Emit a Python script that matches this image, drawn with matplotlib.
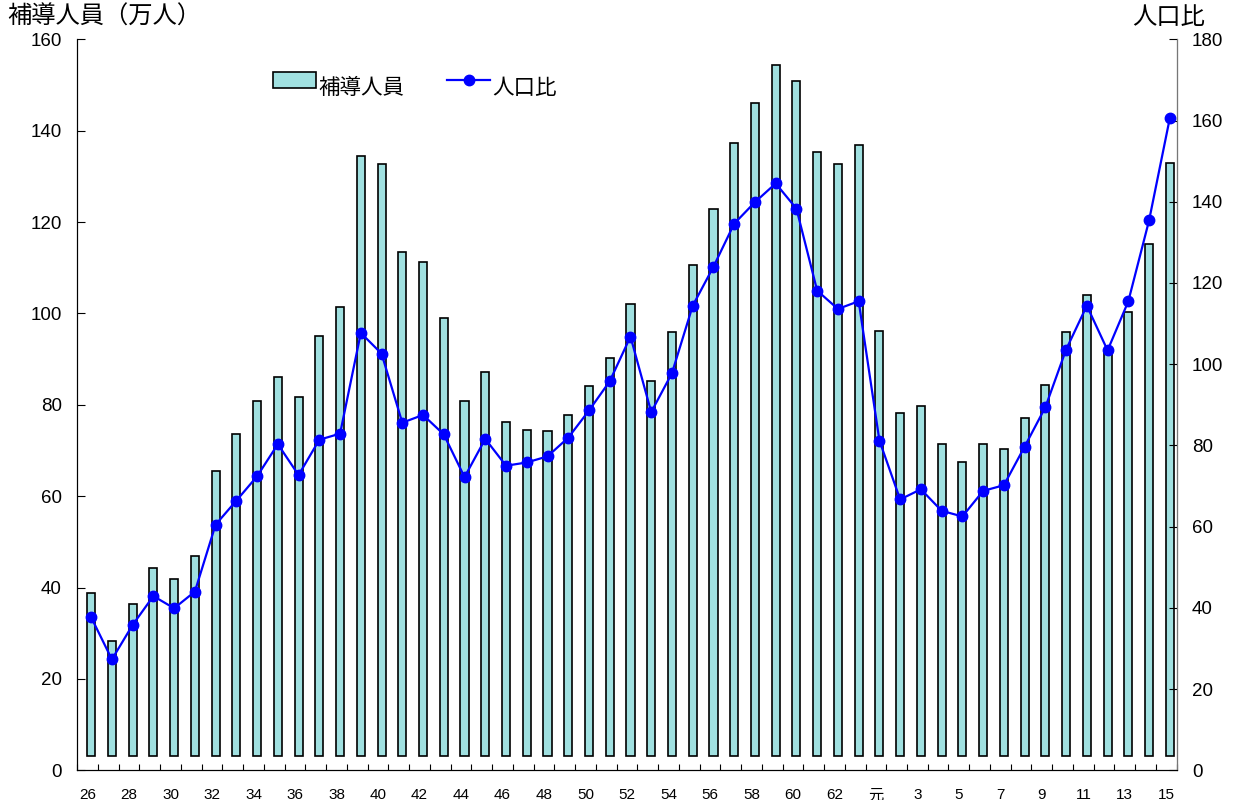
import numpy as np
import matplotlib.pyplot as plt
from matplotlib.ticker import FixedLocator

plt.rcParams['font.family'] = ['Liberation Sans', 'Noto Sans CJK JP']

# 年 (昭和26年〜63年, 平成元年〜15年)
years = [str(y) for y in range(26, 64)] + ['元'] + [str(y) for y in range(2, 16)]

# 補導人員 (万人)
persons = [38.9, 28.2, 36.5, 44.3, 41.9, 47.0, 65.6, 73.7, 80.8, 86.1,
           81.8, 95.1, 101.3, 134.4, 132.7, 113.5, 111.3, 99.0, 80.9, 87.1,
           76.3, 74.4, 74.3, 77.7, 84.2, 90.2, 102.1, 85.1, 95.9, 110.7,
           122.9, 137.2, 146.1, 154.4, 150.9, 135.4, 132.6, 136.8,
           96.1, 78.3, 79.8, 71.5, 67.4, 71.5, 70.4, 77.2, 84.4, 95.9,
           104.0, 92.0, 100.3, 115.3, 133.0]

# 人口比
ratio = [37.7, 27.3, 35.8, 42.9, 39.9, 44.0, 60.5, 66.4, 72.4, 80.3,
         72.7, 81.4, 82.9, 107.7, 102.6, 85.6, 87.5, 82.7, 72.2, 81.6,
         75.0, 75.8, 77.3, 81.9, 88.6, 95.8, 106.8, 88.2, 97.8, 114.4,
         124.0, 134.6, 139.9, 144.5, 138.3, 118.1, 113.6, 115.5,
         81.2, 66.7, 69.2, 63.9, 62.5, 68.8, 70.2, 79.7, 89.4, 103.6,
         114.4, 103.4, 115.5, 135.4, 160.6]

n = len(years)
x = np.arange(n)
xb = x + 0.17          # bars sit a little right of the category centre
base = 3.07            # bars start slightly above zero

fig = plt.figure(figsize=(12.36, 8), dpi=100)
ax = fig.add_axes([0.0625, 0.0371, 0.8895, 0.9138])
ax2 = ax.twinx()

vals = np.array(persons)
bars = ax.bar(xb, vals - base, bottom=base, width=0.39, color='#a0e0e0',
              edgecolor='black', linewidth=1.2, label='補導人員')
line, = ax2.plot(xb, ratio, color='#0000ff', lw=1.6, marker='o', ms=7.5,
                 label='人口比')

ax.set_xlim(-0.5, n - 0.5)
ax.set_ylim(0, 160)
ax2.set_ylim(0, 180)
ax.set_yticks(np.arange(0, 161, 20))
ax2.set_yticks(np.arange(0, 181, 20))

# category boundaries as ticks, labels every other year at centres
ax.xaxis.set_major_locator(FixedLocator(np.arange(-0.5, n, 1.0)))
ax.set_xticklabels([])
ax.xaxis.set_minor_locator(FixedLocator(x[::2]))
ax.set_xticklabels(years[::2], minor=True)
ax.tick_params(axis='x', which='major', direction='in', length=4.5, width=0.8)
ax.tick_params(axis='x', which='minor', length=0, pad=13, labelsize=11)
ax.tick_params(axis='y', direction='in', length=6, width=0.8, pad=11,
               labelsize=13.5)
ax2.tick_params(axis='y', direction='in', length=6, width=0.8, pad=11,
                labelsize=13.5)

for a in (ax, ax2):
    a.spines['top'].set_visible(False)
    a.spines['left'].set_linewidth(0.8)
    a.spines['bottom'].set_linewidth(0.8)
ax2.spines['right'].set_color('#777777')

fig.text(0.006, 0.978, '補導人員（万人）', fontsize=17.5, va='center', ha='left')
fig.text(0.975, 0.978, '人口比', fontsize=17.5, va='center', ha='right')

leg = ax.legend([bars, line], ['補導人員', '人口比'], ncol=2, frameon=False,
                loc='upper left', bbox_to_anchor=(0.205, 0.935),
                bbox_transform=fig.transFigure, fontsize=15.5, handlelength=2.0,
                handleheight=0.8, columnspacing=2.0, handletextpad=0.1)
# legend texts sit a bit below their keys in the original
for t in leg.get_texts():
    t.set_position((0, -7))

fig.savefig('out.png', dpi=100)
